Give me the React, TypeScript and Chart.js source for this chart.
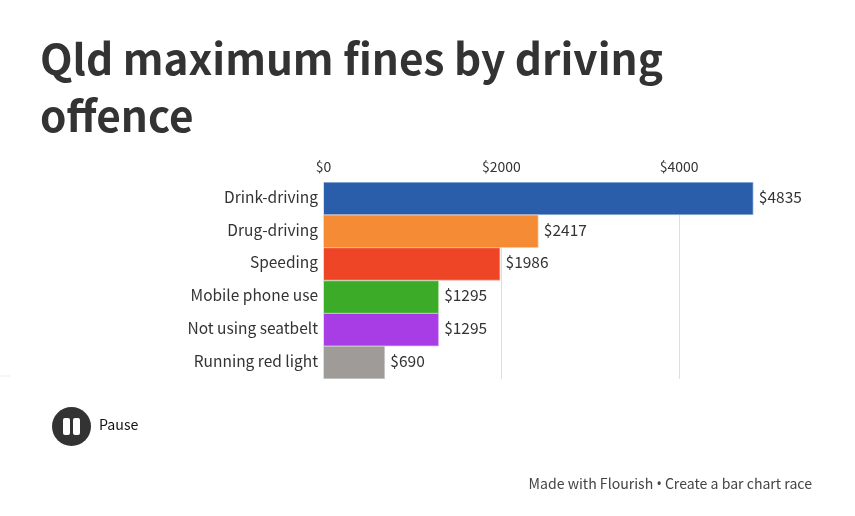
import React, { useEffect, useRef } from "react";
import { Chart, registerables } from "chart.js";

Chart.register(...registerables);

const categories = ["Drink-driving", "Drug-driving", "Speeding", "Mobile phone use", "Not using seatbelt", "Running red light"];
const fines = [4835, 2417, 1986, 1295, 1295, 690];
const tickValues = [0, 2000, 4000];
const barColors = ["rgba(32,85,165,0.95)", "rgba(245,133,43,0.95)", "rgba(238,59,27,0.95)", "rgba(49,167,27,0.95)", "rgba(163,51,229,0.95)", "rgba(154,150,148,0.95)"];
const borderColors = ["#a5bce0", "#fbc79d", "#f79f8c", "#9fd893", "#d6a3f5", "#cfcdcb"];
const FONT = '"Noto Sans CJK SC", "Noto Sans", sans-serif';
const TEXT = "#333333";

const valueLabels = {
  id: "valueLabels",
  afterDatasetsDraw(chart: any) {
    const { ctx } = chart;
    const meta = chart.getDatasetMeta(0);
    ctx.save();
    ctx.font = `15.5px ${FONT}`;
    ctx.fillStyle = TEXT;
    ctx.textAlign = "left";
    ctx.textBaseline = "middle";
    meta.data.forEach((bar: any, i: number) => {
      ctx.fillText(`$${fines[i]}`, bar.x + 5.5, bar.y - 1.5);
    });
    ctx.restore();
  },
};

export default function App() {
  const ref = useRef<HTMLCanvasElement>(null);
  useEffect(() => {
    const chart = new Chart(ref.current!, {
      type: "bar",
      data: {
        labels: categories,
        datasets: [{
          data: fines,
          backgroundColor: barColors,
          borderColor: borderColors,
          borderWidth: 1,
          barPercentage: 1,
          categoryPercentage: 1,
        }],
      },
      options: {
        indexAxis: "y",
        animation: false,
        responsive: false,
        layout: { padding: { left: 0, top: 0, right: 87, bottom: 137 } },
        plugins: { legend: { display: false }, tooltip: { enabled: false } },
        scales: {
          x: {
            position: "top",
            min: 0,
            max: 5000,
            afterBuildTicks: (s: any) => { s.ticks = tickValues.map((value) => ({ value })); },
            border: { display: false },
            grid: { color: "#dedede", lineWidth: 1, drawTicks: false },
            ticks: {
              autoSkip: false,
              maxRotation: 0,
              padding: 7,
              color: TEXT,
              font: { family: FONT, size: 14 },
              callback: (v: any) => `$${v}`,
            },
            afterFit: (s: any) => { s.height = 182; },
          },
          y: {
            border: { display: false },
            grid: { display: false, drawTicks: false },
            ticks: {
              padding: 5.5,
              labelOffset: -1.5,
              color: TEXT,
              font: { family: FONT, size: 15.5 },
              autoSkip: false,
            },
            afterFit: (s: any) => { s.width = 323.5; },
          },
        },
      },
      plugins: [valueLabels],
    } as any);
    return () => chart.destroy();
  }, []);

  return (
    <div style={{ position: "fixed", left: 0, top: 0, width: 855, height: 516, background: "#fff", overflow: "hidden", fontFamily: FONT, color: TEXT }}>
      <canvas ref={ref} width={855} height={516} style={{ position: "absolute", left: 0, top: 0 }} />
      <div style={{ position: "absolute", left: 40, top: 28, width: 720, fontSize: 42.3, fontWeight: 700, lineHeight: "57px" }}>
        Qld maximum fines by driving offence
      </div>
      <div style={{ position: "absolute", left: 0, top: 375, width: 10, height: 2, background: "#f6f6f6" }} />
      <div style={{ position: "absolute", left: 52, top: 407, width: 39, height: 39, borderRadius: "50%", background: "#333" }}>
        <div style={{ position: "absolute", left: 11, top: 11, width: 7, height: 17, borderRadius: 2, background: "#fff" }} />
        <div style={{ position: "absolute", left: 21, top: 11, width: 7, height: 17, borderRadius: 2, background: "#fff" }} />
      </div>
      <div style={{ position: "absolute", left: 99, top: 413, fontSize: 14.2, lineHeight: "22px", color: "#111" }}>Pause</div>
      <div style={{ position: "absolute", right: 43, top: 472, fontSize: 14.1, lineHeight: "22px", color: "#444", whiteSpace: "nowrap" }}>
        Made with Flourish <span style={{ fontFamily: '"Noto Sans", sans-serif' }}>•</span> Create a bar chart race
      </div>
    </div>
  );
}
